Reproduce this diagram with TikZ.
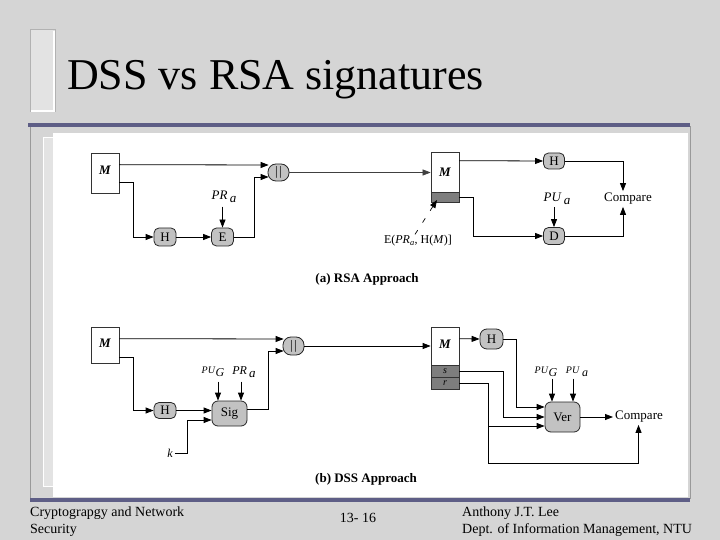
\documentclass[tikz,border=0pt]{standalone}
\usepackage{fontspec}
\setmainfont{Liberation Serif}
\usetikzlibrary{arrows.meta,calc}
\newcommand\fsz[1]{\fontsize{#1bp}{#1bp}\selectfont}
\definecolor{marble}{HTML}{D5D5D5}
\definecolor{slate}{HTML}{5E5E86}
\definecolor{nodegray}{HTML}{C2C2C2}
\definecolor{blockgray}{HTML}{7E7E7E}
\definecolor{barfill}{HTML}{E3E3E3}
\begin{document}
\begin{tikzpicture}[x=1bp,y=-1bp,
 box/.style={draw=black!80,line width=0.7bp,fill=white,minimum width=28bp,inner sep=0pt},
 mlbl/.style={inner sep=0pt,font=\fsz{13}\bfseries\itshape},
 blk/.style={draw=black!80,line width=0.7bp,fill=blockgray,minimum width=28bp,inner sep=0pt,font=\fsz{10}\itshape},
 gnode/.style={draw=black!85,line width=0.8bp,fill=nodegray,rounded corners=5bp,inner sep=0pt,font=\fsz{13}},
 lbl/.style={inner sep=2bp,font=\fsz{13}},
 arr/.style={line width=0.8bp,-{Triangle[length=8bp,width=6bp]}},
 ln/.style={line width=0.8bp},
 foot/.style={inner sep=0pt,font=\fsz{14},align=left},
]
\useasboundingbox (0,0) rectangle (720,540);
% background and frame
\fill[marble] (0,0) rectangle (720,540);
\filldraw[fill=barfill,draw=black!30,line width=1bp] (30,30) rectangle (55,112);
\draw[white,line width=1.5bp] (54,31) -- (54,111) -- (31,111);
\node[anchor=base west,inner sep=0pt,font=\fsz{44}] (title) at (67,90) {DSS vs RSA signatures};
\draw[black!40,line width=1bp] (30,127) rectangle (690,498);
\fill[white] (53,133) rectangle (688,497);
\filldraw[fill=barfill,draw=white,line width=1bp] (43,138) rectangle (53,486);
\fill[slate] (28,123) rectangle (690,127);
\fill[slate] (30,498) rectangle (690,502);
% ---------------- RSA ----------------
\node[box,minimum height=40bp] (M1) at (105,173) {};
\node[mlbl] (M1t) at (105,170) {M};
\node[gnode,minimum width=21bp,minimum height=17bp,rounded corners=8bp] (cat1) at (278.5,172.5) {|\hspace{1.5bp}|};
\node[gnode,minimum width=22bp,minimum height=18bp] (H1) at (165,237) {H};
\node[gnode,minimum width=22bp,minimum height=18bp] (E1) at (222.5,237) {E};
\node[lbl] (PR1) at (224,197) {\textit{PR}\raisebox{-3bp}{\,\textit{a}}};
\draw[arr] ($(E1.north)+(0,-21)$) -- (E1.north);
\draw[arr] ($(M1.north east)+(0,12)$) -- ($(cat1.west)+(1,-7.5)$);
\draw[arr] ($(M1.north east)+(0,30)$) -- ++(14,0) |- (H1.west);
\draw[arr] (H1) -- (E1);
\draw[arr] (E1.east) -- ++(20,0) |- ($(cat1.west)+(1,4.5)$);
\node[box,minimum height=40bp] (M2) at (445,172.5) {};
\node[mlbl] (M2t) at (445,172) {M};
\node[blk,minimum height=10bp] (M2s) at (445,197.5) {};
\draw[arr,line width=0.6bp,black!75] (cat1) -- (M2);
\node[gnode,minimum width=21bp,minimum height=16bp] (H2) at (554,161) {H};
\node[gnode,minimum width=21bp,minimum height=17bp] (D2) at (554,236) {D};
\node[lbl] (PU1) at (557,199) {\textit{PU}\raisebox{-3bp}{\,\textit{a}}};
\draw[arr] ($(D2.north)+(0,-20)$) -- (D2.north);
\node[lbl] (Cmp1) at (628,199) {Compare};
\draw[arr] ($(M2.north east)+(0,8.5)$) -- (H2.west);
\draw[arr] (H2.east) -| ($(Cmp1.north)+(-5,0)$);
\draw[arr] (D2.east) -| ($(Cmp1.south)+(-5,0)$);
\draw[arr] (M2s.east) -- ++(14,0) |- (D2.west);
\node[lbl,font=\fsz{12}] (Elbl) at (418,241) {E(\textit{PR}\textsubscript{\textit{a}}, H(\textit{M})]};
\coordinate (Etip) at (437,200);
\draw[arr,dash pattern=on 5bp off 9bp,line width=0.7bp] ($(Elbl.north)+(-3,1)$) -- (Etip);
\node[font=\fsz{13}\bfseries] (capA) at (367,279) {(a) RSA Approach};
% ---------------- DSS ----------------
\node[box,minimum height=36bp] (M3) at (105,345) {};
\node[mlbl] (M3t) at (105,343) {M};
\node[gnode,minimum width=21bp,minimum height=18bp,rounded corners=8bp] (cat2) at (293.5,346) {|\hspace{1.5bp}|};
\node[gnode,minimum width=22bp,minimum height=16bp] (H3) at (165,410.5) {H};
\node[gnode,minimum width=35bp,minimum height=25bp,rounded corners=6bp] (Sig) at (229.5,413.5) {Sig};
\node[lbl] (PUG1) at (213,372) {{\fsz{10}\textit{PU}}\raisebox{-3bp}{\fsz{12}\textit{G}}};
\node[lbl] (PR2) at (244,372) {{\fsz{12}\textit{PR}}\raisebox{-3bp}{\,\textit{a}}};
\draw[arr] ($(Sig.north)+(-11.5,-19)$) -- ($(Sig.north)+(-11.5,0)$);
\draw[arr] ($(Sig.north)+(11.5,-19)$) -- ($(Sig.north)+(11.5,0)$);
\node[lbl,font=\fsz{12}\itshape] (k) at (170,453) {k};
\draw[arr] ($(M3.north east)+(0,12)$) -- ($(cat2.west)+(1,-7)$);
\draw[arr] ($(M3.north east)+(0,31)$) -- ++(14,0) |- (H3.west);
\draw[arr] (H3.east) -- (Sig.west |- H3.east);
\draw[arr] (k.east) -- ++(13,0) |- ($(Sig.west)+(0,6.5)$);
\draw[arr] ($(Sig.east)+(0,-4)$) -- ++(21,0) |- ($(cat2.west)+(1,5)$);
\node[box,minimum height=38bp] (M4) at (445,346) {};
\node[mlbl] (M4t) at (445,344) {M};
\node[blk,minimum height=12bp] (Ms) at (445,371) {s};
\node[blk,minimum height=12bp] (Mr) at (445,383) {r};
\draw[arr] (cat2.east) -- (M4.west);
\node[gnode,minimum width=23bp,minimum height=20bp,rounded corners=7bp] (H4) at (491.5,339) {H};
\node[gnode,minimum width=35bp,minimum height=30bp,rounded corners=6bp] (Ver) at (562.5,417) {Ver};
\node[lbl,anchor=west] (Cmp2) at (613,417) {Compare};
\node[lbl] (PUG2) at (546,372) {{\fsz{10}\textit{PU}}\raisebox{-3bp}{\fsz{12}\textit{G}}};
\node[lbl] (PUa2) at (577,372) {{\fsz{10}\textit{PU}}\raisebox{-3bp}{\,\fsz{12}\textit{a}}};
\draw[arr] ($(M4.north east)+(0,12)$) -- (H4.west);
\draw[ln] (H4.east) -- ++(13,0) coordinate (ht);
\draw[arr] (ht) |- ($(Ver.west)+(0,-10)$);
\draw[arr] (Ms.east) -- ++(44,0) |- (Ver.west);
\draw[ln] (Mr.east) -- ++(29,0) coordinate (rt);
\draw[arr] (rt) -- ($(rt)+(0,80)$) -| ($(Cmp2.south)+(-0.5,0)$);
\draw[arr] ($(rt)+(0,43)$) -- ($(Ver.west)+(0,9)$);
\draw[arr] (Ver.east) -- (Cmp2.west);
\draw[arr] ($(Ver.north)+(-10.5,-23)$) -- ($(Ver.north)+(-10.5,0)$);
\draw[arr] ($(Ver.north)+(10.5,-23)$) -- ($(Ver.north)+(10.5,0)$);
\node[font=\fsz{13}\bfseries] (capB) at (366,479) {(b) DSS Approach};
% ---------------- footer ----------------
\node[foot,anchor=base west] (f1) at (30,516) {Cryptograpgy and Network};
\node[foot,anchor=base west] (f2) at (30,533) {Security};
\node[foot,anchor=base] (f3) at (358,522) {13- 16};
\node[foot,anchor=base west] (f4) at (462,516) {Anthony J.T. Lee};
\node[foot,anchor=base west] (f5) at (462,533) {Dept. of Information Management, NTU};
\end{tikzpicture}
\end{document}
